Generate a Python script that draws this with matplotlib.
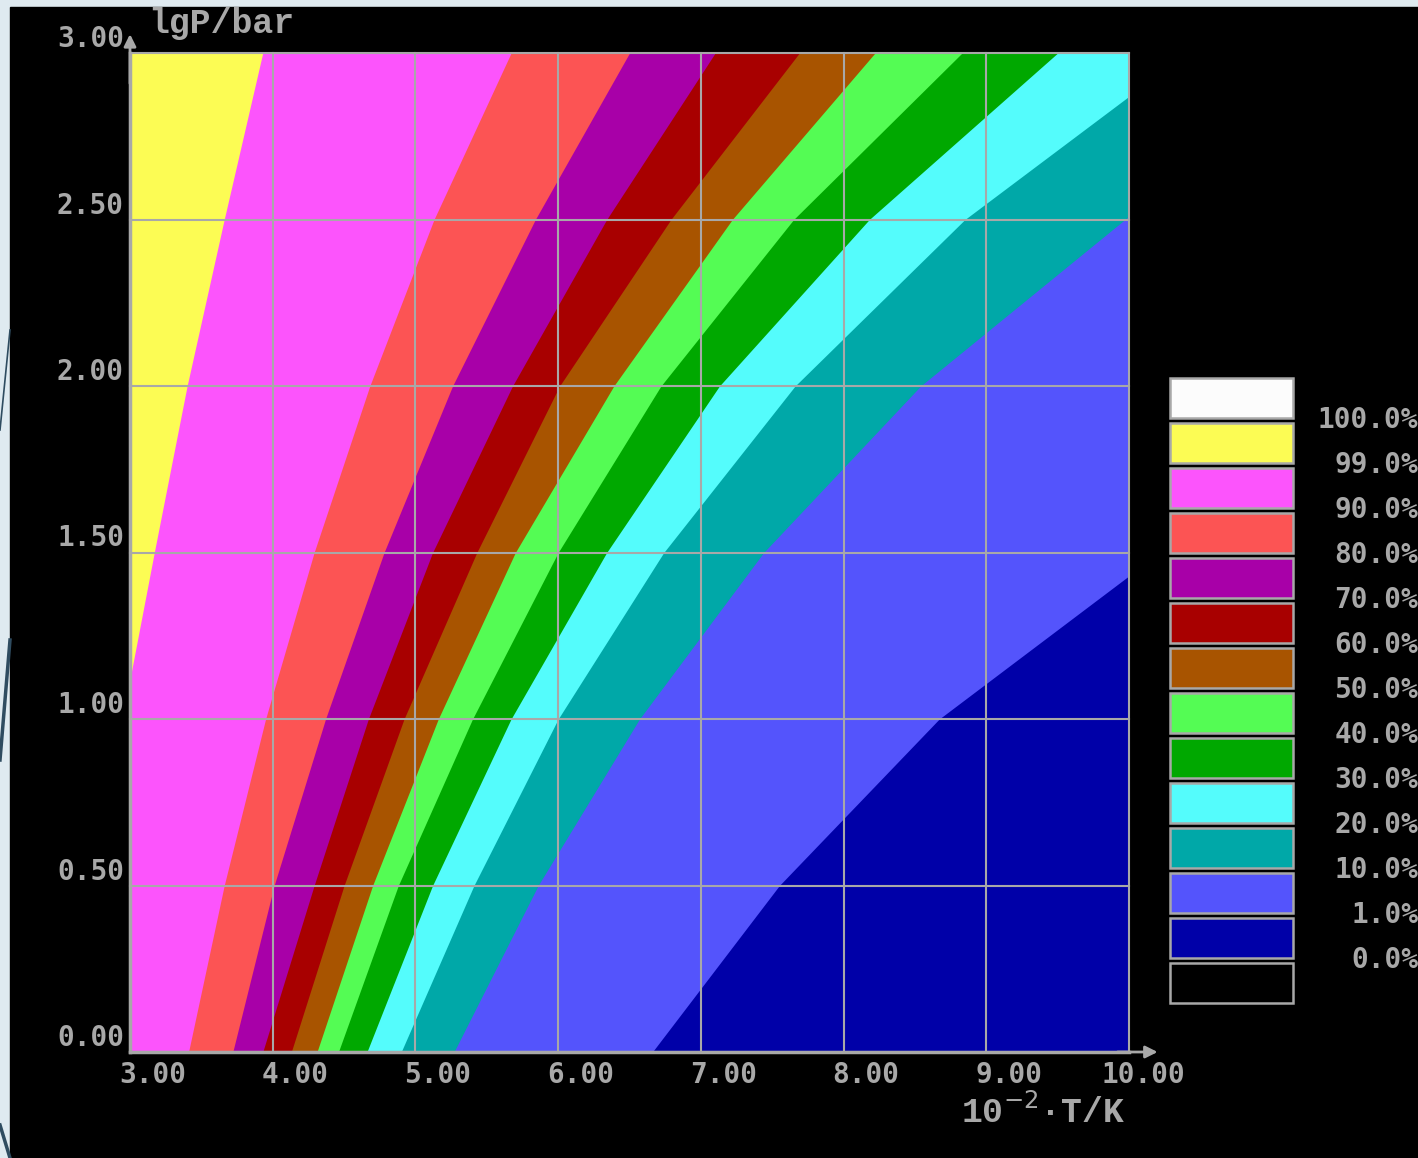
import matplotlib
matplotlib.use("Agg")
import numpy as np
from matplotlib import pyplot as plt
from matplotlib.patches import Rectangle
from matplotlib.transforms import offset_copy

# conversion levels (%) and EGA-style colours for each band, top of legend first
levels = ["100.0%", "99.0%", "90.0%", "80.0%", "70.0%", "60.0%", "50.0%",
          "40.0%", "30.0%", "20.0%", "10.0%", "1.0%", "0.0%"]
band_colors = ["#fcfcfc", "#fcfc54", "#fc54fc", "#fc5454", "#a800a8", "#a80000",
               "#a85400", "#54fc54", "#00a800", "#54fcfc", "#00a8a8", "#5454fc",
               "#0000a8", "#000000"]

# boundary curves: T/100 K at given lgP, one per level between bands
lgp_std = [0.0, 0.5, 1.0, 1.5, 2.0, 2.5, 3.0]
boundaries = {
    "99": ([0.0, 1.12, 1.5, 2.0, 2.5, 3.0], [3.00, 3.00, 3.17, 3.40, 3.66, 3.93]),
    "90": (lgp_std, [3.41, 3.66, 3.95, 4.29, 4.68, 5.13, 5.67]),
    "80": (lgp_std, [3.72, 4.01, 4.37, 4.78, 5.26, 5.84, 6.50]),
    "70": (lgp_std, [3.93, 4.29, 4.67, 5.12, 5.68, 6.34, 7.10]),
    "60": (lgp_std, [4.13, 4.50, 4.92, 5.43, 6.01, 6.79, 7.69]),
    "50": (lgp_std, [4.31, 4.70, 5.16, 5.70, 6.39, 7.22, 8.22]),
    "40": (lgp_std, [4.46, 4.88, 5.40, 6.00, 6.72, 7.65, 8.83]),
    "30": (lgp_std, [4.66, 5.12, 5.67, 6.34, 7.13, 8.18, 9.50]),
    "20": ([0.0, 0.5, 1.0, 1.5, 2.0, 2.5, 2.87], [4.90, 5.41, 6.00, 6.74, 7.66, 8.85, 10.0]),
    "10": ([0.0, 0.5, 1.0, 1.5, 2.0, 2.51], [5.27, 5.86, 6.57, 7.44, 8.54, 10.0]),
    "1": ([0.0, 0.5, 1.0, 1.43], [6.66, 7.55, 8.67, 10.0]),
}

x_ticks = [3, 4, 5, 6, 7, 8, 9, 10]
y_ticks = [0.0, 0.5, 1.0, 1.5, 2.0, 2.5, 3.0]

W, H = 1418, 1158
GRAY = "#a8a8a8"
mono = "DejaVu Sans Mono"

fig = plt.figure(figsize=(W / 100, H / 100), dpi=100)
fig.patch.set_facecolor("#dfeaf0")

# black screen area with a thin light margin on the left and top
bg = fig.add_axes([0, 0, 1, 1])
bg.set_xlim(0, W)
bg.set_ylim(H, 0)
bg.axis("off")
bg.add_patch(Rectangle((10, 7), W - 10, H - 7, color="black", zorder=1))
bg.plot([0, 10], [430, 330], color="#2f4c60", lw=1.2, zorder=2)
bg.plot([0, 10], [760, 640], color="#2f4c60", lw=2.5, zorder=2)
bg.plot([0, 10], [1125, 1158], color="#2f4c60", lw=2.5, zorder=2)

ax = fig.add_axes([130 / W, 106 / H, 999 / W, 999 / H])
ax.set_xlim(3, 10)
ax.set_ylim(0, 3)
ax.set_facecolor(band_colors[1])
xmax = ax.get_xlim()[1]

for i, key in enumerate(boundaries):
    y, x = boundaries[key]
    ax.fill_betweenx(y, x, xmax, color=band_colors[i + 2], lw=0, zorder=1)

for v in x_ticks:
    ax.axvline(v, color=GRAY, lw=1.5, zorder=3, clip_on=False)
for v in y_ticks:
    ax.axhline(v, color=GRAY, lw=1.5, zorder=3, clip_on=False)

ax.set_xticks([])
ax.set_yticks([])
for side in ["top", "right"]:
    ax.spines[side].set_visible(False)
for side in ["left", "bottom"]:
    ax.spines[side].set_color(GRAY)
    ax.spines[side].set_linewidth(2.5)
    ax.spines[side].set_zorder(4)

# axis arrows
ax.annotate("", xy=(3.0, 3.065), xytext=(3.0, 2.9), annotation_clip=False,
            arrowprops=dict(arrowstyle="-|>", color=GRAY, lw=2, mutation_scale=18))
ax.annotate("", xy=(10.22, 0.0), xytext=(9.9, 0.0), annotation_clip=False,
            arrowprops=dict(arrowstyle="-|>", color=GRAY, lw=2, mutation_scale=18))

px = 0.72  # points per pixel at 100 dpi
for v in y_ticks:
    tr = offset_copy(ax.transData, fig=fig, x=-6 * px, y=14 * px, units="points")
    ax.text(3.0, v, f"{v:.2f}", transform=tr, ha="right", va="center",
            color=GRAY, fontsize=20, fontweight="bold", family=mono, clip_on=False)
for v in x_ticks:
    tr = offset_copy(ax.transData, fig=fig, x=56 * px, y=-23 * px, units="points")
    ax.text(v, 0.0, f"{v:.2f}", transform=tr, ha="right", va="center",
            color=GRAY, fontsize=20, fontweight="bold", family=mono, clip_on=False)

tr = offset_copy(ax.transData, fig=fig, x=18 * px, y=30 * px, units="points")
ax.text(3.0, 3.0, "lgP/bar", transform=tr, ha="left", va="center",
        color=GRAY, fontsize=25, fontweight="bold", family="Liberation Mono", clip_on=False)
tr = offset_copy(ax.transData, fig=fig, x=-4 * px, y=-60 * px, units="points")
ax.text(10.0, 0.0, r"10$^{-2}$·T/K", transform=tr, ha="right", va="center",
        color=GRAY, fontsize=25, fontweight="bold", family="Liberation Mono", clip_on=False)

# legend column
box_x, box_w, box_h, step, top = 1170, 123, 40, 45, 378
for i, c in enumerate(band_colors):
    bg.add_patch(Rectangle((box_x, top + i * step), box_w, box_h, facecolor=c,
                           edgecolor=GRAY, lw=1.8, zorder=3))
for i, lab in enumerate(levels):
    bg.text(1418, top + box_h + 2 + i * step, lab, ha="right", va="center",
            color=GRAY, fontsize=20, fontweight="bold", family=mono, zorder=3)

fig.savefig("out.png", dpi=100, facecolor=fig.get_facecolor())
